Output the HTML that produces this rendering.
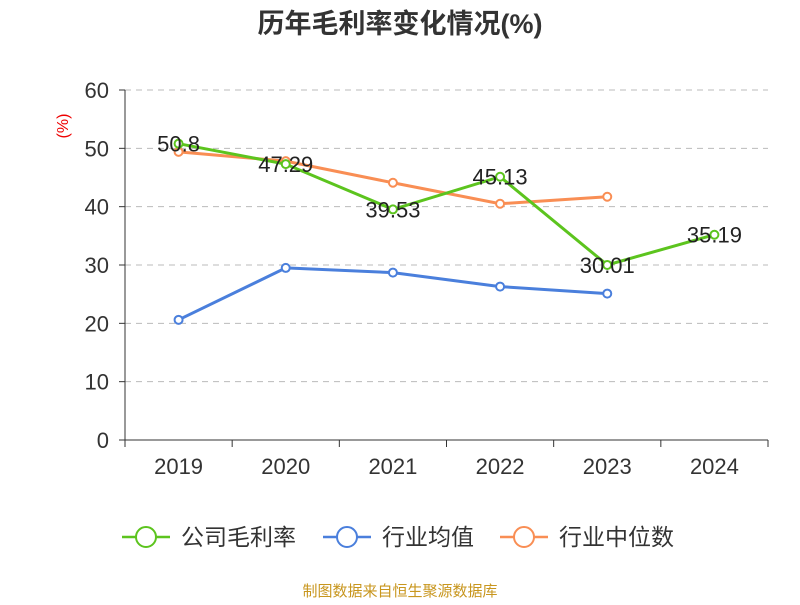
<!DOCTYPE html>
<html><head><meta charset="utf-8"><style>
body{margin:0;background:#fff;}
svg text{font-family:"Liberation Sans","Noto Sans CJK SC",sans-serif;}
</style></head><body>
<svg id="chart" width="800" height="600" xmlns="http://www.w3.org/2000/svg">
<text x="400" y="33" text-anchor="middle" font-size="27" font-weight="bold" fill="#333">历年毛利率变化情况(%)</text>
<text x="68" y="126" transform="rotate(-90 68 126)" text-anchor="middle" font-size="16" fill="#e00">(%)</text>
<g id="grid"></g><g id="axes"></g><g id="series"></g>
<g id="legend"></g>
<text x="400" y="596" text-anchor="middle" font-size="15" fill="#c8961e">制图数据来自恒生聚源数据库</text>
</svg>
<script>
const categories=["2019","2020","2021","2022","2023","2024"];
const yTicks=[0,10,20,30,40,50,60];
const grossMargin=[50.8,47.29,39.53,45.13,30.01,35.19];
const grossMarginLabels=["50.8","47.29","39.53","45.13","30.01","35.19"];
const industryAvg=[20.6,29.5,28.7,26.3,25.1];
const industryMedian=[49.4,47.8,44.1,40.5,41.7];
const NS="http://www.w3.org/2000/svg";
const x0=125,x1=768,y0=440,y1=90;
const step=(x1-x0)/categories.length;
const xs=i=>x0+step*(i+0.5);
const ys=v=>y0-(v-0)/(60-0)*(y0-y1);
function mk(tag,attrs,parent,text){const e=document.createElementNS(NS,tag);for(const k in attrs)e.setAttribute(k,attrs[k]);if(text!==undefined)e.textContent=text;parent.appendChild(e);return e;}
const grid=document.getElementById('grid'),axes=document.getElementById('axes'),ser=document.getElementById('series'),leg=document.getElementById('legend');
yTicks.forEach(t=>{
 if(t>0){const g=mk('line',{x1:x0,x2:x1,y1:ys(t),y2:ys(t),stroke:'#bbb','stroke-dasharray':'6,5'},grid);
 
 }
 const tk=mk('line',{x1:x0-6,x2:x0,y1:ys(t),y2:ys(t),stroke:'#333'},axes);
 
 
 const l=mk('text',{x:x0-16,y:ys(t)+8,'text-anchor':'end','font-size':22,fill:'#333'},axes,String(t));
 
 
});
const ya=mk('line',{x1:x0,x2:x0,y1:y1,y2:y0,stroke:'#333'},axes);


const xa=mk('line',{x1:x0,x2:x1,y1:y0,y2:y0,stroke:'#333'},axes);


for(let i=0;i<=categories.length;i++){const t=mk('line',{x1:x0+step*i,x2:x0+step*i,y1:y0,y2:y0+7,stroke:'#333'},axes);
 
 }
categories.forEach((c,i)=>{const t=mk('text',{x:xs(i),y:y0+34,'text-anchor':'middle','font-size':22,fill:'#333'},axes,c);
 
 });
function line(vals,color,name){
 const p=mk('polyline',{points:vals.map((v,i)=>xs(i)+','+ys(v)).join(' '),fill:'none',stroke:color,'stroke-width':3},ser);
 
 
 vals.forEach((v,i)=>{const c=mk('circle',{cx:xs(i),cy:ys(v),r:4,fill:'#fff',stroke:color,'stroke-width':2},ser);
  
  });
}
line(industryAvg,'#4a7fdc','industry-average');
line(industryMedian,'#f98e54','industry-median');
line(grossMargin,'#5cc41e','gross-margin');
grossMargin.forEach((v,i)=>{const t=mk('text',{x:xs(i),y:ys(v)+8,'text-anchor':'middle','font-size':22,fill:'#222'},ser,grossMarginLabels[i]);
 
 });
const legendItems=[["公司毛利率","#5cc41e",122],["行业均值","#4a7fdc",323],["行业中位数","#f98e54",500]];
legendItems.forEach(([n,c,x])=>{
 const g=mk('g',{},leg);
 
 
 mk('line',{x1:x,x2:x+48,y1:537,y2:537,stroke:c,'stroke-width':2.5},g);
 mk('circle',{cx:x+24,cy:537,r:10,fill:'#fff',stroke:c,'stroke-width':2},g);
 mk('text',{x:x+59,y:545,'font-size':23,fill:'#333'},g,n);
});
</script>
</body></html>
